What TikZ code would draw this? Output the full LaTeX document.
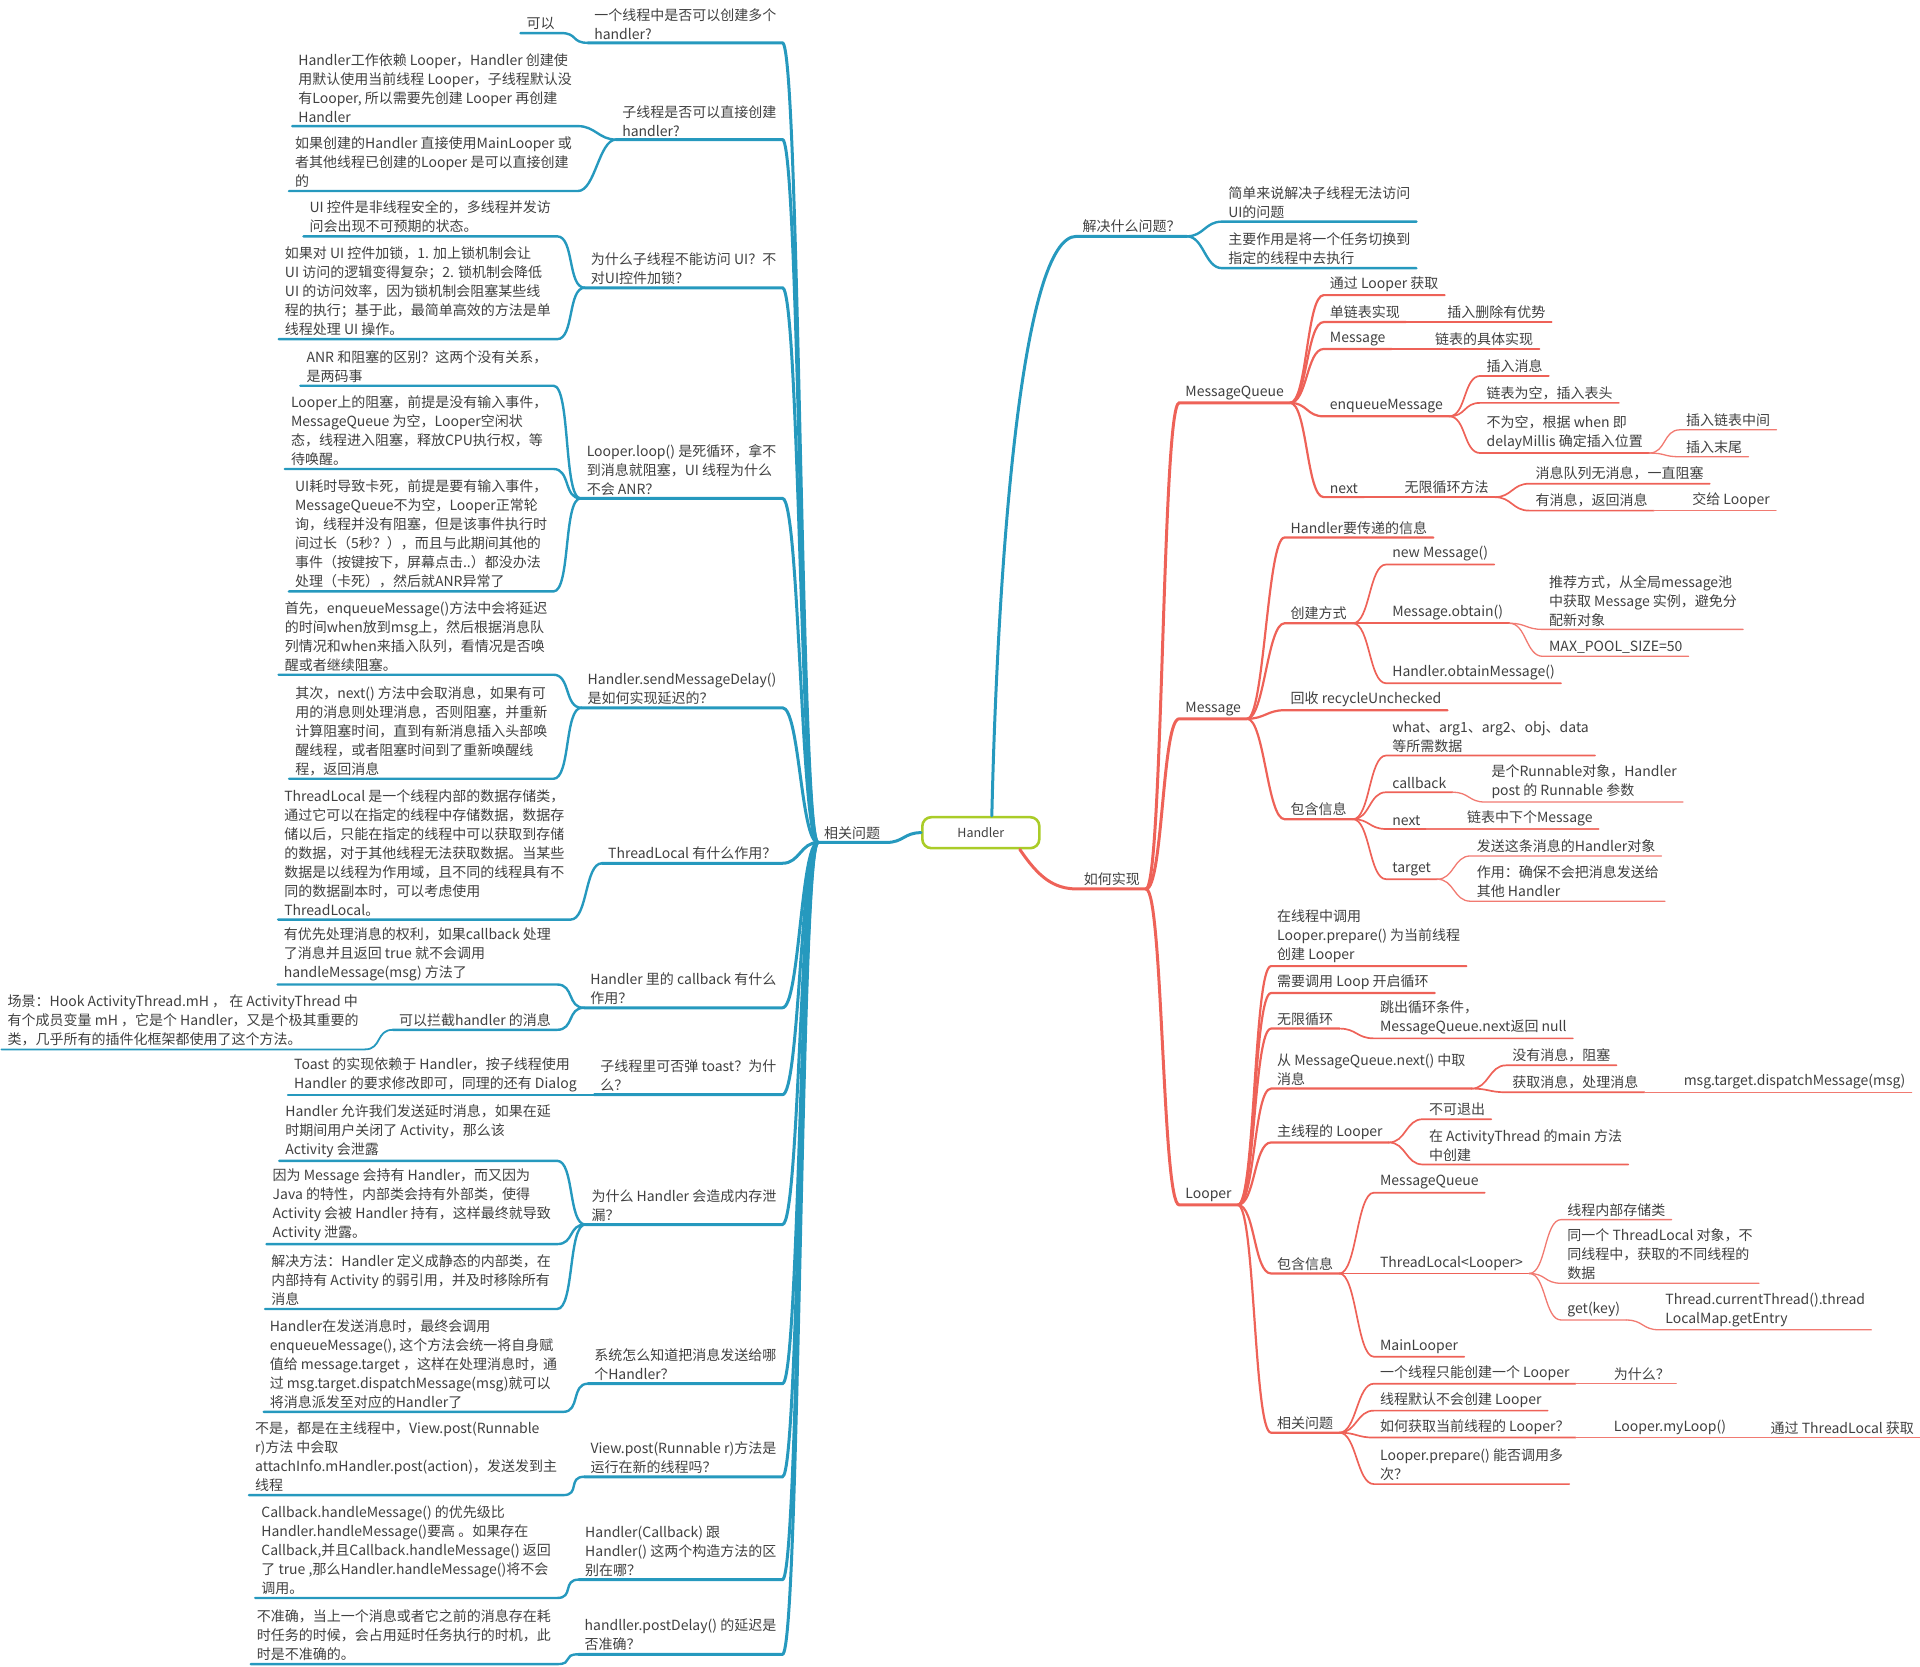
\documentclass[tikz,border=0pt]{standalone}
\usepackage{fontspec}
\setmainfont{Noto Sans CJK SC}
\usepackage{xcolor}
\usetikzlibrary{positioning,calc}
\definecolor{hblue}{RGB}{38,153,190}
\definecolor{hred}{RGB}{238,98,88}
\definecolor{hgreen}{RGB}{170,204,40}
\definecolor{htext}{RGB}{64,64,64}

\begin{document}
\begin{tikzpicture}[x=1.22449pt,y=-1.22449pt,
tp/.style={font=\fontsize{14}{19}\selectfont,text=htext,align=left,inner xsep=6pt,inner ysep=3pt},
rt/.style={tp,anchor=south west},
lt/.style={tp,anchor=south east},
mainbox/.style={draw=hgreen,line width=2.6pt,rounded corners=9pt,fill=white,minimum width=117pt,minimum height=31pt,font=\fontsize{12.5}{15}\selectfont,text=htext},
b1/.style={draw=hblue,line width=3pt,line cap=round},
b2/.style={draw=hblue,line width=2.4pt,line cap=round},
b3/.style={draw=hblue,line width=1.8pt,line cap=round},
r1/.style={draw=hred,line width=3pt,line cap=round},
r2/.style={draw=hred,line width=2.2pt,line cap=round},
r3/.style={draw=hred,line width=1.7pt,line cap=round},
r4/.style={draw=hred!85,line width=1.3pt,line cap=round},
lb/.style={to path={.. controls +(-14,0) and +(14,0) .. (\tikztotarget)}},
rb/.style={to path={.. controls +(14,0) and +(-14,0) .. (\tikztotarget)}}]

\useasboundingbox (0,0) rectangle (1568,1361);

\node[mainbox] (hd) at (801,680) {Handler};

% left: related questions
\node[rt] (rel) at (668,688) {相关问题};

\node[lt] (q1) at (639,35) {一个线程中是否可以创建多个\\handler?};
\node[lt] (q2) at (639,114) {子线程是否可以直接创建\\handler?};
\node[lt] (q3) at (639,235) {为什么子线程不能访问 UI？不\\对UI控件加锁？};
\node[lt] (q4) at (639,407) {Looper.loop() 是死循环，拿不\\到消息就阻塞，UI 线程为什么\\不会 ANR？};
\node[lt] (q5) at (639,578) {Handler.sendMessageDelay()\\是如何实现延迟的？};
\node[lt] (q6) at (639,705) {ThreadLocal 有什么作用？};
\node[lt] (q7) at (639,823) {Handler 里的 callback 有什么\\作用？};
\node[lt] (q8) at (639,894) {子线程里可否弹 toast？为什\\么？};
\node[lt] (q9) at (639,1000) {为什么 Handler 会造成内存泄\\漏？};
\node[lt] (q10) at (639,1130) {系统怎么知道把消息发送给哪\\个Handler？};
\node[lt] (q11) at (639,1206) {View.post(Runnable r)方法是\\运行在新的线程吗？};
\node[lt] (q12) at (639,1290) {Handler(Callback) 跟\\Handler() 这两个构造方法的区\\别在哪？};
\node[lt] (q13) at (639,1351) {handller.postDelay() 的延迟是\\否准确？};

\node[lt] (a1) at (458,27) {可以};
\node[lt] (a2a) at (472,103) {Handler工作依赖 Looper，Handler 创建使\\用默认使用当前线程 Looper，子线程默认没\\有Looper, 所以需要先创建 Looper 再创建\\Handler};
\node[lt] (a2b) at (472,156) {如果创建的Handler 直接使用MainLooper 或\\者其他线程已创建的Looper 是可以直接创建\\的};
\node[lt] (a3a) at (455,193) {UI 控件是非线程安全的，多线程并发访\\问会出现不可预期的状态。};
\node[lt] (a3b) at (455,277) {如果对 UI 控件加锁，1. 加上锁机制会让\\UI 访问的逻辑变得复杂；2. 锁机制会降低\\UI 的访问效率，因为锁机制会阻塞某些线\\程的执行；基于此，最简单高效的方法是单\\线程处理 UI 操作。};
\node[lt] (a4a) at (452,315) {ANR 和阻塞的区别？这两个没有关系，\\是两码事};
\node[lt] (a4b) at (452,383) {Looper上的阻塞，前提是没有输入事件，\\MessageQueue 为空，Looper空闲状\\态，线程进入阻塞，释放CPU执行权，等\\待唤醒。};
\node[lt] (a4c) at (452,483) {UI耗时导致卡死，前提是要有输入事件，\\MessageQueue不为空，Looper正常轮\\询，线程并没有阻塞，但是该事件执行时\\间过长（5秒？），而且与此期间其他的\\事件（按键按下，屏幕点击..）都没办法\\处理（卡死），然后就ANR异常了};
\node[lt] (a5a) at (452,551) {首先，enqueueMessage()方法中会将延迟\\的时间when放到msg上，然后根据消息队\\列情况和when来插入队列，看情况是否唤\\醒或者继续阻塞。};
\node[lt] (a5b) at (452,636) {其次，next() 方法中会取消息，如果有可\\用的消息则处理消息，否则阻塞，并重新\\计算阻塞时间，直到有新消息插入头部唤\\醒线程，或者阻塞时间到了重新唤醒线\\程，返回消息};
\node[lt] (a6) at (466,751) {ThreadLocal 是一个线程内部的数据存储类，\\通过它可以在指定的线程中存储数据，数据存\\储以后，只能在指定的线程中可以获取到存储\\的数据，对于其他线程无法获取数据。当某些\\数据是以线程为作用域，且不同的线程具有不\\同的数据副本时，可以考虑使用\\ThreadLocal。};
\node[lt] (a7a) at (455,804) {有优先处理消息的权利，如果callback 处理\\了消息并且返回 true 就不会调用\\handleMessage(msg) 方法了};
\node[lt] (a7b) at (455,841) {可以拦截handler 的消息};
\node[lt] (a7c) at (298,857) {场景：Hook ActivityThread.mH ， 在 ActivityThread 中\\有个成员变量 mH ，它是个 Handler，又是个极其重要的\\类，几乎所有的插件化框架都使用了这个方法。};
\node[lt] (a8) at (476,894) {Toast 的实现依赖于 Handler，按子线程使用\\Handler 的要求修改即可，同理的还有 Dialog};
\node[lt] (a9a) at (455,948) {Handler 允许我们发送延时消息，如果在延\\时期间用户关闭了 Activity，那么该\\Activity 会泄露};
\node[lt] (a9b) at (455,1016) {因为 Message 会持有 Handler，而又因为\\Java 的特性，内部类会持有外部类，使得\\Activity 会被 Handler 持有，这样最终就导致\\Activity 泄露。};
\node[lt] (a9c) at (455,1069) {解决方法：Handler 定义成静态的内部类，在\\内部持有 Activity 的弱引用，并及时移除所有\\消息};
\node[lt] (a10) at (460,1153) {Handler在发送消息时，最终会调用\\enqueueMessage(), 这个方法会统一将自身赋\\值给 message.target ，这样在处理消息时，通\\过 msg.target.dispatchMessage(msg)就可以\\将消息派发至对应的Handler了};
\node[lt] (a11) at (460,1221) {不是，都是在主线程中，View.post(Runnable\\r)方法 中会取\\attachInfo.mHandler.post(action)，发送发到主\\线程};
\node[lt] (a12) at (455,1305) {Callback.handleMessage() 的优先级比\\Handler.handleMessage()要高 。如果存在\\Callback,并且Callback.handleMessage() 返回\\了 true ,那么Handler.handleMessage()将不会\\调用。};
\node[lt] (a13) at (455,1359) {不准确，当上一个消息或者它之前的消息存在耗\\时任务的时候，会占用延时任务执行的时机，此\\时是不准确的。};

\draw[b1] (hd.west) to[lb] (rel.south east) -- (rel.south west);
\draw[b1] (rel.south west) to[lb] (q1.south east) -- (q1.south west);
\draw[b1] (rel.south west) to[lb] (q2.south east) -- (q2.south west);
\draw[b1] (rel.south west) to[lb] (q3.south east) -- (q3.south west);
\draw[b1] (rel.south west) to[lb] (q4.south east) -- (q4.south west);
\draw[b1] (rel.south west) to[lb] (q5.south east) -- (q5.south west);
\draw[b1] (rel.south west) to[lb] (q6.south east) -- (q6.south west);
\draw[b1] (rel.south west) to[lb] (q7.south east) -- (q7.south west);
\draw[b1] (rel.south west) to[lb] (q8.south east) -- (q8.south west);
\draw[b1] (rel.south west) to[lb] (q9.south east) -- (q9.south west);
\draw[b1] (rel.south west) to[lb] (q10.south east) -- (q10.south west);
\draw[b1] (rel.south west) to[lb] (q11.south east) -- (q11.south west);
\draw[b1] (rel.south west) to[lb] (q12.south east) -- (q12.south west);
\draw[b1] (rel.south west) to[lb] (q13.south east) -- (q13.south west);

\draw[b2] (q1.south west) to[lb] (a1.south east) -- (a1.south west);
\draw[b2] (q2.south west) to[lb] (a2a.south east) -- (a2a.south west);
\draw[b2] (q2.south west) to[lb] (a2b.south east) -- (a2b.south west);
\draw[b2] (q3.south west) to[lb] (a3a.south east) -- (a3a.south west);
\draw[b2] (q3.south west) to[lb] (a3b.south east) -- (a3b.south west);
\draw[b2] (q4.south west) to[lb] (a4a.south east) -- (a4a.south west);
\draw[b2] (q4.south west) to[lb] (a4b.south east) -- (a4b.south west);
\draw[b2] (q4.south west) to[lb] (a4c.south east) -- (a4c.south west);
\draw[b2] (q5.south west) to[lb] (a5a.south east) -- (a5a.south west);
\draw[b2] (q5.south west) to[lb] (a5b.south east) -- (a5b.south west);
\draw[b2] (q6.south west) to[lb] (a6.south east) -- (a6.south west);
\draw[b2] (q7.south west) to[lb] (a7a.south east) -- (a7a.south west);
\draw[b2] (q7.south west) to[lb] (a7b.south east) -- (a7b.south west);
\draw[b3] (a7b.south west) to[lb] (a7c.south east) -- (a7c.south west);
\draw[b2] (q8.south west) to[lb] (a8.south east) -- (a8.south west);
\draw[b2] (q9.south west) to[lb] (a9a.south east) -- (a9a.south west);
\draw[b2] (q9.south west) to[lb] (a9b.south east) -- (a9b.south west);
\draw[b2] (q9.south west) to[lb] (a9c.south east) -- (a9c.south west);
\draw[b2] (q10.south west) to[lb] (a10.south east) -- (a10.south west);
\draw[b2] (q11.south west) to[lb] (a11.south east) -- (a11.south west);
\draw[b2] (q12.south west) to[lb] (a12.south east) -- (a12.south west);
\draw[b2] (q13.south west) to[lb] (a13.south east) -- (a13.south west);

% right: what it solves
\node[rt] (jj) at (879,193) {解决什么问题？};
\node[rt] (j1) at (998,181) {简单来说解决子线程无法访问\\UI的问题};
\node[rt] (j2) at (998,219) {主要作用是将一个任务切换到\\指定的线程中去执行};

\draw[b1] ([xshift=11pt]hd.north) .. controls (815,450) and (835,193) .. (jj.south west) -- (jj.south east);
\draw[b2] (jj.south east) to[rb] (j1.south west) -- (j1.south east);
\draw[b2] (jj.south east) to[rb] (j2.south west) -- (j2.south east);

% right: how it works
\node[rt] (hw) at (880,726) {如何实现};
\node[rt] (mq) at (963,329) {MessageQueue};
\node[rt] (msg) at (963,587) {Message};
\node[rt] (lp) at (963,984) {Looper};

\draw[r1] ([xshift=39pt]hd.south) .. controls (848,716) and (860,726) .. (hw.south west) -- (hw.south east);
\draw[r1] (hw.south east) to[rb] (mq.south west) -- (mq.south east);
\draw[r1] (hw.south east) to[rb] (msg.south west) -- (msg.south east);
\draw[r1] (hw.south east) to[rb] (lp.south west) -- (lp.south east);

\node[rt] (mq1) at (1081,241) {通过 Looper 获取};
\node[rt] (mq2) at (1081,263) {单链表实现};
\node[rt] (mq2x) at (1177,263) {插入删除有优势};
\node[rt] (mq3) at (1081,285) {Message};
\node[rt] (mq3x) at (1167,285) {链表的具体实现};
\node[rt] (mq4) at (1081,340) {enqueueMessage};
\node[rt] (en1) at (1209,307) {插入消息};
\node[rt] (en2) at (1209,329) {链表为空，插入表头};
\node[rt] (en3) at (1209,370) {不为空，根据 when 即\\delayMillis 确定插入位置};
\node[rt] (en3a) at (1372,351) {插入链表中间};
\node[rt] (en3b) at (1372,373) {插入末尾};
\node[rt] (mq5) at (1081,406) {next};
\node[rt] (nx) at (1142,406) {无限循环方法};
\node[rt] (nx1) at (1249,395) {消息队列无消息，一直阻塞};
\node[rt] (nx2) at (1249,417) {有消息，返回消息};
\node[rt] (nx2x) at (1377,417) {交给 Looper};

\draw[r2] (mq.south east) to[rb] (mq1.south west) -- (mq1.south east);
\draw[r2] (mq.south east) to[rb] (mq2.south west) -- (mq2.south east);
\draw[r3] (mq2.south east) to[rb] (mq2x.south west) -- (mq2x.south east);
\draw[r2] (mq.south east) to[rb] (mq3.south west) -- (mq3.south east);
\draw[r3] (mq3.south east) to[rb] (mq3x.south west) -- (mq3x.south east);
\draw[r2] (mq.south east) to[rb] (mq4.south west) -- (mq4.south east);
\draw[r3] (mq4.south east) to[rb] (en1.south west) -- (en1.south east);
\draw[r3] (mq4.south east) to[rb] (en2.south west) -- (en2.south east);
\draw[r3] (mq4.south east) to[rb] (en3.south west) -- (en3.south east);
\draw[r4] (en3.south east) to[rb] (en3a.south west) -- (en3a.south east);
\draw[r4] (en3.south east) to[rb] (en3b.south west) -- (en3b.south east);
\draw[r2] (mq.south east) to[rb] (mq5.south west) -- (mq5.south east);
\draw[r3] (mq5.south east) to[rb] (nx.south west) -- (nx.south east);
\draw[r3] (nx.south east) to[rb] (nx1.south west) -- (nx1.south east);
\draw[r3] (nx.south east) to[rb] (nx2.south west) -- (nx2.south east);
\draw[r4] (nx2.south east) to[rb] (nx2x.south west) -- (nx2x.south east);

\node[rt] (m1) at (1049,439) {Handler要传递的信息};
\node[rt] (m2) at (1049,509) {创建方式};
\node[rt] (c1) at (1132,461) {new Message()};
\node[rt] (c2) at (1132,509) {Message.obtain()};
\node[rt] (c2a) at (1260,514) {推荐方式，从全局message池\\中获取 Message 实例，避免分\\配新对象};
\node[rt] (c2b) at (1260,536) {MAX\_POOL\_SIZE=50};
\node[rt] (c3) at (1132,558) {Handler.obtainMessage()};
\node[rt] (m3) at (1049,580) {回收 recycleUnchecked};
\node[rt] (m4) at (1049,669) {包含信息};
\node[rt] (i1) at (1132,617) {what、arg1、arg2、obj、data\\等所需数据};
\node[rt] (i2) at (1132,647) {callback};
\node[rt] (i2x) at (1213,655) {是个Runnable对象，Handler\\post 的 Runnable 参数};
\node[rt] (i3) at (1132,677) {next};
\node[rt] (i3x) at (1193,677) {链表中下个Message};
\node[rt] (i4) at (1132,718) {target};
\node[rt] (i4a) at (1201,699) {发送这条消息的Handler对象};
\node[rt] (i4b) at (1201,736) {作用：确保不会把消息发送给\\其他 Handler};

\draw[r2] (msg.south east) to[rb] (m1.south west) -- (m1.south east);
\draw[r2] (msg.south east) to[rb] (m2.south west) -- (m2.south east);
\draw[r3] (m2.south east) to[rb] (c1.south west) -- (c1.south east);
\draw[r3] (m2.south east) to[rb] (c2.south west) -- (c2.south east);
\draw[r4] (c2.south east) to[rb] (c2a.south west) -- (c2a.south east);
\draw[r4] (c2.south east) to[rb] (c2b.south west) -- (c2b.south east);
\draw[r3] (m2.south east) to[rb] (c3.south west) -- (c3.south east);
\draw[r2] (msg.south east) to[rb] (m3.south west) -- (m3.south east);
\draw[r2] (msg.south east) to[rb] (m4.south west) -- (m4.south east);
\draw[r3] (m4.south east) to[rb] (i1.south west) -- (i1.south east);
\draw[r3] (m4.south east) to[rb] (i2.south west) -- (i2.south east);
\draw[r4] (i2.south east) to[rb] (i2x.south west) -- (i2x.south east);
\draw[r3] (m4.south east) to[rb] (i3.south west) -- (i3.south east);
\draw[r4] (i3.south east) to[rb] (i3x.south west) -- (i3x.south east);
\draw[r3] (m4.south east) to[rb] (i4.south west) -- (i4.south east);
\draw[r4] (i4.south east) to[rb] (i4a.south west) -- (i4a.south east);
\draw[r4] (i4.south east) to[rb] (i4b.south west) -- (i4b.south east);

\node[rt] (l1) at (1038,789) {在线程中调用\\Looper.prepare() 为当前线程\\创建 Looper};
\node[rt] (l2) at (1038,811) {需要调用 Loop 开启循环};
\node[rt] (l3) at (1038,840) {无限循环};
\node[rt] (l3x) at (1122,848) {跳出循环条件，\\MessageQueue.next返回 null};
\node[rt] (l4) at (1038,889) {从 MessageQueue.next() 中取\\消息};
\node[rt] (l4a) at (1230,870) {没有消息，阻塞};
\node[rt] (l4b) at (1230,892) {获取消息，处理消息};
\node[rt] (l4bx) at (1370,892) {msg.target.dispatchMessage(msg)};
\node[rt] (l5) at (1038,933) {主线程的 Looper};
\node[rt] (l5a) at (1162,914) {不可退出};
\node[rt] (l5b) at (1162,951) {在 ActivityThread 的main 方法\\中创建};
\node[rt] (l6) at (1038,1040) {包含信息};
\node[rt] (l6a) at (1122,974) {MessageQueue};
\node[rt] (l6b) at (1122,1040) {ThreadLocal<Looper>};
\node[rt] (t1) at (1275,996) {线程内部存储类};
\node[rt] (t2) at (1275,1048) {同一个 ThreadLocal 对象，不\\同线程中，获取的不同线程的\\数据};
\node[rt] (t3) at (1275,1078) {get(key)};
\node[rt] (t3x) at (1355,1086) {Thread.currentThread().thread\\LocalMap.getEntry};
\node[rt] (l6c) at (1122,1108) {MainLooper};
\node[rt] (l7) at (1038,1170) {相关问题};
\node[rt] (k1) at (1122,1130) {一个线程只能创建一个 Looper};
\node[rt] (k1x) at (1313,1130) {为什么？};
\node[rt] (k2) at (1122,1152) {线程默认不会创建 Looper};
\node[rt] (k3) at (1122,1174) {如何获取当前线程的 Looper？};
\node[rt] (k3x) at (1313,1174) {Looper.myLoop()};
\node[rt] (k3y) at (1441,1174) {通过 ThreadLocal 获取};
\node[rt] (k4) at (1122,1212) {Looper.prepare() 能否调用多\\次？};

\draw[r2] (lp.south east) to[rb] (l1.south west) -- (l1.south east);
\draw[r2] (lp.south east) to[rb] (l2.south west) -- (l2.south east);
\draw[r2] (lp.south east) to[rb] (l3.south west) -- (l3.south east);
\draw[r3] (l3.south east) to[rb] (l3x.south west) -- (l3x.south east);
\draw[r2] (lp.south east) to[rb] (l4.south west) -- (l4.south east);
\draw[r3] (l4.south east) to[rb] (l4a.south west) -- (l4a.south east);
\draw[r3] (l4.south east) to[rb] (l4b.south west) -- (l4b.south east);
\draw[r4] (l4b.south east) to[rb] (l4bx.south west) -- (l4bx.south east);
\draw[r2] (lp.south east) to[rb] (l5.south west) -- (l5.south east);
\draw[r3] (l5.south east) to[rb] (l5a.south west) -- (l5a.south east);
\draw[r3] (l5.south east) to[rb] (l5b.south west) -- (l5b.south east);
\draw[r2] (lp.south east) to[rb] (l6.south west) -- (l6.south east);
\draw[r3] (l6.south east) to[rb] (l6a.south west) -- (l6a.south east);
\draw[r3] (l6.south east) to[rb] (l6b.south west) -- (l6b.south east);
\draw[r4] (l6b.south east) to[rb] (t1.south west) -- (t1.south east);
\draw[r4] (l6b.south east) to[rb] (t2.south west) -- (t2.south east);
\draw[r4] (l6b.south east) to[rb] (t3.south west) -- (t3.south east);
\draw[r4] (t3.south east) to[rb] (t3x.south west) -- (t3x.south east);
\draw[r3] (l6.south east) to[rb] (l6c.south west) -- (l6c.south east);
\draw[r2] (lp.south east) to[rb] (l7.south west) -- (l7.south east);
\draw[r3] (l7.south east) to[rb] (k1.south west) -- (k1.south east);
\draw[r4] (k1.south east) to[rb] (k1x.south west) -- (k1x.south east);
\draw[r3] (l7.south east) to[rb] (k2.south west) -- (k2.south east);
\draw[r3] (l7.south east) to[rb] (k3.south west) -- (k3.south east);
\draw[r4] (k3.south east) to[rb] (k3x.south west) -- (k3x.south east);
\draw[r4] (k3x.south east) to[rb] (k3y.south west) -- (k3y.south east);
\draw[r3] (l7.south east) to[rb] (k4.south west) -- (k4.south east);
\end{tikzpicture}
\end{document}
